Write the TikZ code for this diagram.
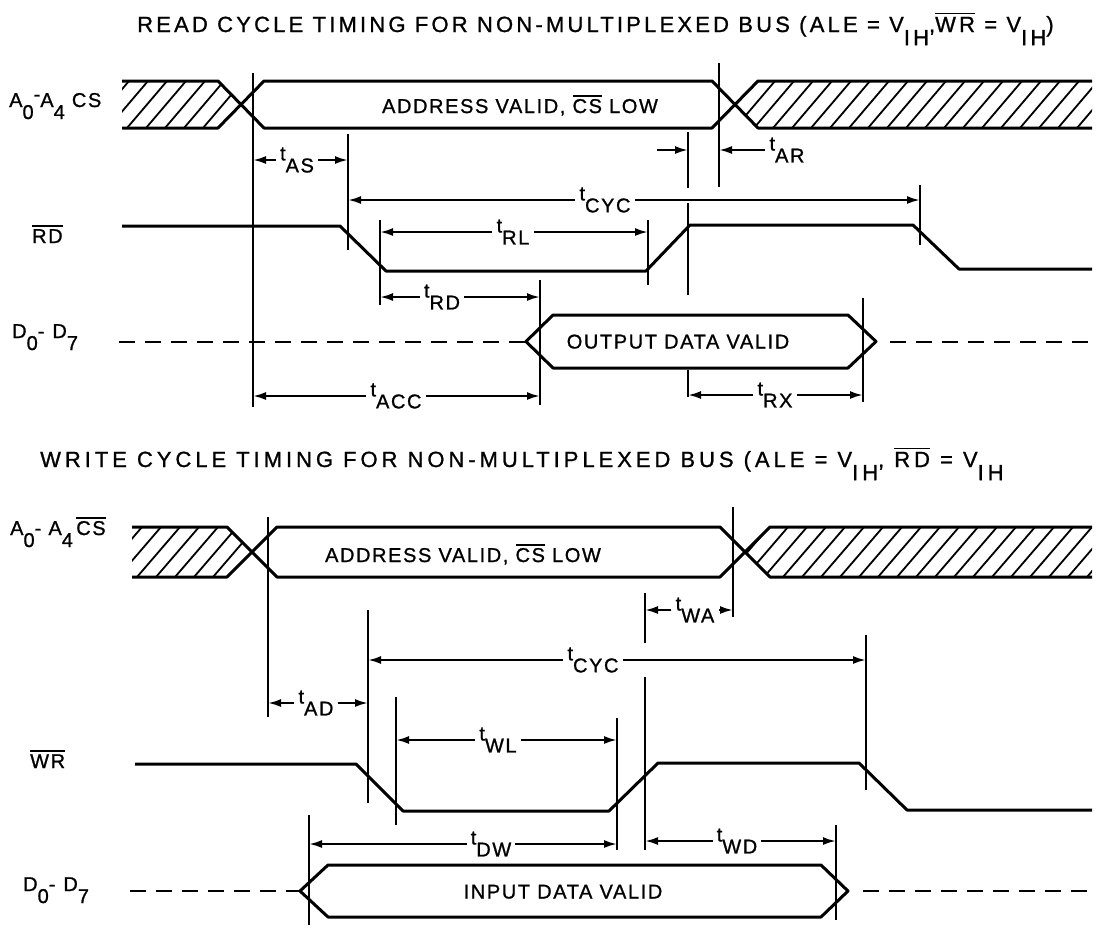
\documentclass[tikz,border=0pt]{standalone}
\usepackage{fontspec}
\setmainfont{Liberation Sans}
\newfontfamily\lettering[LetterSpace=8,FakeBold=1]{Liberation Sans}
\newfontfamily\titlefont[LetterSpace=14.5,FakeBold=1]{Liberation Sans}
\newfontfamily\titlefontw[LetterSpace=18,FakeBold=1]{Liberation Sans}
\usetikzlibrary{arrows.meta}

\newcommand\lo[1]{\raisebox{-0.6em}{#1}}
\newcommand\ovl[1]{\leavevmode\vbox{\hrule height 1.8pt\kern 2.4pt\hbox{#1}}}
\newcommand\tm[1]{t\lo{#1}}

\tikzset{
  sig/.style={line width=3pt, line join=round},
  tick/.style={line width=1.9pt},
  dim/.style={line width=2.2pt, -{Latex[length=13pt,width=8pt]}},
  hatch/.style={line width=1.8pt},
  tristate/.style={line width=2.6pt, dash pattern=on 16pt off 10pt},
  big/.style={font=\lettering\fontsize{20}{24}\selectfont},
  caption/.style={font=\titlefont\fontsize{22}{26}\selectfont, anchor=base west, inner sep=0pt},
  siglabel/.style={big, anchor=base west, inner sep=0pt},
  tlabel/.style={big, inner sep=4pt},
}

\begin{document}
\begin{tikzpicture}[x=1pt,y=-1pt]
  \useasboundingbox (0,0) rectangle (1099,927);

  % ---- read cycle
  \node[caption] (rtitle) at (137,32) {READ CYCLE TIMING FOR NON-MULTIPLEXED BUS (ALE = V\lo{IH},\ovl{WR} = V\lo{IH})};
  \node[siglabel] (raddrl) at (9,107) {A\lo{0}\raisebox{0.3em}{-}A\lo{4} CS};
  \node[siglabel] (rrdl) at (32,243) {\ovl{RD}};
  \node[siglabel] (rdatal) at (12,338) {D\lo{0}-\hspace{8pt}D\lo{7}};

  \begin{scope}
    \clip (122,81) -- (218,81) -- (241,104.5) -- (218,128) -- (122,128) -- cycle
          (735,104.5) -- (758,81) -- (1092,81) -- (1092,128) -- (758,128) -- cycle;
    \foreach \x in {70,89,...,1090}
      \draw[hatch] (\x,128) -- ++(40,-47);
  \end{scope}
  \draw[sig] (122,81) -- (218,81) -- (264,128) -- (712,128) -- (758,81) -- (1092,81);
  \draw[sig] (122,128) -- (218,128) -- (264,81) -- (712,81) -- (758,128) -- (1092,128);
  \node[big,anchor=base] (raddr) at (520,113) {ADDRESS VALID, \ovl{CS} LOW};

  \foreach \n/\x/\a/\b in {ra/253/73/407, rb/348/134/250, rc/380/220/305,
      rd/540/280/405, re/648/220/285, rg/719/63/187, rh/863/298/402, ri/920/185/245}
    \draw[tick] (\x,\a) coordinate (\n) -- (\x,\b);
  \draw[tick] (688,132) coordinate (rf) -- (688,188) (688,203) -- (688,295)
    (688,370) -- (688,397);

  \draw[sig] (122,226) -- (340,226) -- (386,271) -- (646,271) -- (690,225)
    -- (913,225) -- (959,269) -- (1092,269);

  \node[tlabel] (tas) at (297,160) {\tm{AS}};
  \draw[dim] (tas.west) -- (tas.west -| ra);
  \draw[dim] (tas.east) -- (tas.east -| rb);
  \node[tlabel] (tar) at (787,150) {\tm{AR}};
  \coordinate (tarstub) at (657,150);
  \draw[dim] (tarstub) -- (tarstub -| rf);
  \draw[dim] (tar.west) -- (tar.west -| rg);
  \node[tlabel] (tcycr) at (605,200) {\tm{CYC}};
  \draw[dim] (tcycr.west) -- (tcycr.west -| rb);
  \draw[dim] (tcycr.east) -- (tcycr.east -| ri);
  \node[tlabel] (trl) at (513,232) {\tm{RL}};
  \draw[dim] (trl.west) -- (trl.west -| rc);
  \draw[dim] (trl.east) -- (trl.east -| re);
  \node[tlabel] (trd) at (442,297) {\tm{RD}};
  \draw[dim] (trd.west) -- (trd.west -| rc);
  \draw[dim] (trd.east) -- (trd.east -| rd);
  \node[tlabel] (tacc) at (396,396) {\tm{ACC}};
  \draw[dim] (tacc.west) -- (tacc.west -| ra);
  \draw[dim] (tacc.east) -- (tacc.east -| rd);
  \node[tlabel] (trx) at (775,395) {\tm{RX}};
  \draw[dim] (trx.west) -- (trx.west -| rf);
  \draw[dim] (trx.east) -- (trx.east -| rh);

  \draw[tristate] (119,342) -- (526,342);
  \draw[sig] (526,341.5) -- (553,315) -- (848,315) -- (876,341.5) -- (848,368) -- (553,368) -- cycle;
  \node[big,anchor=base] (rout) at (678,348.5) {OUTPUT DATA VALID};
  \draw[tristate] (890,342) -- (1092,342);

  % ---- write cycle
  \node[caption,font=\titlefontw\fontsize{22}{26}\selectfont] (wtitle) at (40,467) {WRITE CYCLE TIMING FOR NON-MULTIPLEXED BUS (ALE = V\lo{IH}, \ovl{RD} = V\lo{IH}};
  \node[siglabel] (waddrl) at (10,535) {A\lo{0}- A\lo{4}\,\ovl{CS}};
  \node[siglabel] (wwrl) at (30,768) {\ovl{WR}};
  \node[siglabel] (wdatal) at (23,891) {D\lo{0}-\hspace{8pt}D\lo{7}};

  \begin{scope}
    \clip (132,527) -- (227,527) -- (252,552) -- (227,577) -- (132,577) -- cycle
          (745,552) -- (770,527) -- (1092,527) -- (1092,577) -- (770,577) -- cycle;
    \foreach \x in {80,99,...,1090}
      \draw[hatch] (\x,577) -- ++(43,-50);
  \end{scope}
  \draw[sig] (132,527) -- (227,527) -- (277,577) -- (720,577) -- (770,527) -- (1092,527);
  \draw[sig] (132,577) -- (227,577) -- (277,527) -- (720,527) -- (770,577) -- (1092,577);
  \node[big,anchor=base] (waddr) at (463,562) {ADDRESS VALID, \ovl{CS} LOW};

  \foreach \n/\x/\a/\b in {wa/268/517/717, wb/309/815/925, wc/368/610/803,
      wd/396/697/825, we/617/718/850, wh/733/507/617, wi/836/825/920, wj/866/635/790}
    \draw[tick] (\x,\a) coordinate (\n) -- (\x,\b);
  \draw[tick] (645,593) coordinate (wf) -- (645,643) (645,677) -- (645,850);

  \draw[sig] (135,764) -- (356,764) -- (403,811) -- (609,811) -- (658,763)
    -- (859,763) -- (907,810) -- (1092,810);

  \node[tlabel] (twa) at (695,610) {\tm{WA}};
  \draw[dim] (twa.west) -- (twa.west -| wf);
  \draw[dim] (twa.east) -- (twa.east -| wh);
  \node[tlabel] (tcycw) at (593,660) {\tm{CYC}};
  \draw[dim] (tcycw.west) -- (tcycw.west -| wc);
  \draw[dim] (tcycw.east) -- (tcycw.east -| wj);
  \node[tlabel] (tad) at (316,703) {\tm{AD}};
  \draw[dim] (tad.west) -- (tad.west -| wa);
  \draw[dim] (tad.east) -- (tad.east -| wc);
  \node[tlabel] (twl) at (498,740) {\tm{WL}};
  \draw[dim] (twl.west) -- (twl.west -| wd);
  \draw[dim] (twl.east) -- (twl.east -| we);
  \node[tlabel] (tdw) at (491,844) {\tm{DW}};
  \draw[dim] (tdw.west) -- (tdw.west -| wb);
  \draw[dim] (tdw.east) -- (tdw.east -| we);
  \node[tlabel] (twd) at (737,841) {\tm{WD}};
  \draw[dim] (twd.west) -- (twd.west -| wf);
  \draw[dim] (twd.east) -- (twd.east -| wi);

  \draw[tristate] (130,891) -- (300,891);
  \draw[sig] (300,891) -- (328,865) -- (821,865) -- (848,891) -- (821,917) -- (328,917) -- cycle;
  \node[big,anchor=base] (win) at (563,898.5) {INPUT DATA VALID};
  \draw[tristate] (863,891) -- (1092,891);
\end{tikzpicture}
\end{document}
